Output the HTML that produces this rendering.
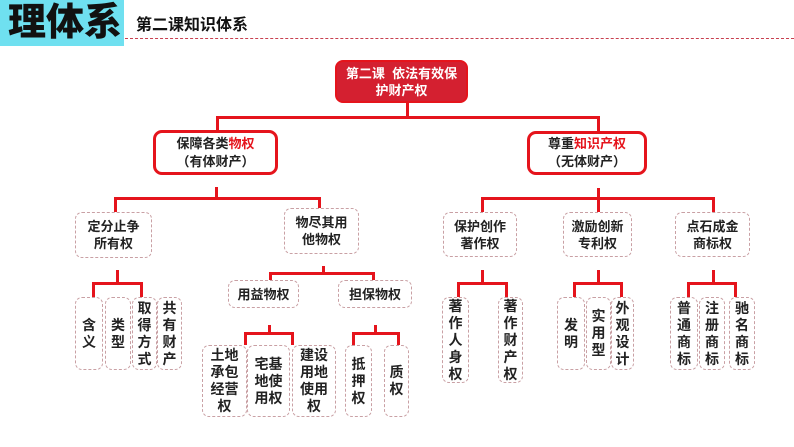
<!DOCTYPE html>
<html><head><meta charset="utf-8">
<style>
*{margin:0;padding:0;box-sizing:border-box}
body{width:794px;height:447px;background:#fff;position:relative;overflow:hidden;font-family:"Liberation Sans","Noto Sans CJK SC",sans-serif;font-weight:bold;color:#222}
.a{position:absolute}
.l{position:absolute;background:#e5141c}
.b{position:absolute;display:flex;align-items:center;justify-content:center;text-align:center;border:1px dashed #c9a0a4;border-radius:7px;font-size:13px;line-height:17px;background:#fff}
.v{font-size:14px;line-height:17px}
.r{color:#e5141c}
</style></head><body>
<div class="a" style="left:0;top:0;width:124px;height:46px;background:#6fe0f0"></div>
<div class="a" style="left:8px;top:1px;font-size:38px;line-height:44px;color:#111;font-weight:900">理体系</div>
<div class="a" style="left:136px;top:16px;font-size:16px;line-height:20px;color:#111">第二课知识体系</div>
<div class="a" style="left:125px;top:38px;width:669px;border-top:1px dashed #c84050"></div>

<div class="b" style="left:335px;top:60px;width:133px;height:43px;background:#d42030;border:2px solid #e5141c;border-radius:8px;color:#fff;font-size:13px;line-height:17px"><div>第二课&nbsp;&nbsp;依法有效保<br>护财产权</div></div>
<div class="l" style="left:406px;top:103px;width:3px;height:15px"></div>
<div class="l" style="left:216px;top:116px;width:384px;height:3px"></div>
<div class="l" style="left:216px;top:116px;width:3px;height:15px"></div>
<div class="l" style="left:597px;top:116px;width:3px;height:16px"></div>

<div class="b" style="left:153px;top:130px;width:125px;height:45px;border:3px solid #e5141c;border-radius:9px;font-size:13px;line-height:18px"><div>保障各类<span class="r">物权</span><br>（有体财产）</div></div>
<div class="b" style="left:527px;top:131px;width:120px;height:44px;border:3px solid #e5141c;border-radius:9px;font-size:13px;line-height:18px"><div>尊重<span class="r">知识产权</span><br>（无体财产）</div></div>

<div class="l" style="left:215px;top:187px;width:3px;height:11px"></div>
<div class="l" style="left:114px;top:197px;width:207px;height:3px"></div>
<div class="l" style="left:114px;top:197px;width:3px;height:15px"></div>
<div class="l" style="left:318px;top:197px;width:3px;height:12px"></div>
<div class="b" style="left:75px;top:212px;width:77px;height:46px"><div>定分止争<br>所有权</div></div>
<div class="b" style="left:284px;top:208px;width:75px;height:46px"><div>物尽其用<br>他物权</div></div>

<div class="l" style="left:116px;top:270px;width:3px;height:13px"></div>
<div class="l" style="left:92px;top:282px;width:51px;height:3px"></div>
<div class="l" style="left:92px;top:282px;width:3px;height:15px"></div>
<div class="l" style="left:140px;top:282px;width:3px;height:15px"></div>
<div class="b v" style="left:75px;top:297px;width:28px;height:73px"><div>含<br>义</div></div>
<div class="b v" style="left:105px;top:297px;width:26px;height:73px"><div>类<br>型</div></div>
<div class="b v" style="left:132px;top:297px;width:25px;height:73px"><div>取<br>得<br>方<br>式</div></div>
<div class="b v" style="left:157px;top:297px;width:25px;height:73px"><div>共<br>有<br>财<br>产</div></div>

<div class="l" style="left:322px;top:266px;width:3px;height:8px"></div>
<div class="l" style="left:269px;top:272px;width:106px;height:3px"></div>
<div class="l" style="left:269px;top:272px;width:3px;height:9px"></div>
<div class="l" style="left:372px;top:272px;width:3px;height:9px"></div>
<div class="b" style="left:228px;top:280px;width:71px;height:28px">用益物权</div>
<div class="b" style="left:338px;top:280px;width:74px;height:28px">担保物权</div>

<div class="l" style="left:268px;top:325px;width:3px;height:9px"></div>
<div class="l" style="left:244px;top:332px;width:50px;height:3px"></div>
<div class="l" style="left:244px;top:332px;width:3px;height:13px"></div>
<div class="l" style="left:291px;top:332px;width:3px;height:13px"></div>
<div class="b v" style="left:202px;top:345px;width:45px;height:72px"><div>土地<br>承包<br>经营<br>权</div></div>
<div class="b v" style="left:247px;top:345px;width:43px;height:72px"><div>宅基<br>地使<br>用权</div></div>
<div class="b v" style="left:292px;top:345px;width:44px;height:72px"><div>建设<br>用地<br>使用<br>权</div></div>

<div class="l" style="left:374px;top:325px;width:3px;height:9px"></div>
<div class="l" style="left:352px;top:332px;width:48px;height:3px"></div>
<div class="l" style="left:352px;top:332px;width:3px;height:13px"></div>
<div class="l" style="left:397px;top:332px;width:3px;height:13px"></div>
<div class="b v" style="left:345px;top:345px;width:27px;height:72px"><div>抵<br>押<br>权</div></div>
<div class="b v" style="left:384px;top:345px;width:25px;height:72px"><div>质<br>权</div></div>

<div class="l" style="left:597px;top:188px;width:3px;height:25px"></div>
<div class="l" style="left:481px;top:197px;width:234px;height:3px"></div>
<div class="l" style="left:481px;top:197px;width:3px;height:15px"></div>
<div class="l" style="left:712px;top:197px;width:3px;height:15px"></div>
<div class="b" style="left:443px;top:212px;width:74px;height:45px"><div>保护创作<br>著作权</div></div>
<div class="b" style="left:563px;top:212px;width:69px;height:45px"><div>激励创新<br>专利权</div></div>
<div class="b" style="left:675px;top:212px;width:75px;height:45px"><div>点石成金<br>商标权</div></div>

<div class="l" style="left:481px;top:270px;width:3px;height:13px"></div>
<div class="l" style="left:457px;top:282px;width:51px;height:3px"></div>
<div class="l" style="left:457px;top:282px;width:3px;height:15px"></div>
<div class="l" style="left:505px;top:282px;width:3px;height:15px"></div>
<div class="b v" style="left:442px;top:297px;width:27px;height:86px"><div>著<br>作<br>人<br>身<br>权</div></div>
<div class="b v" style="left:498px;top:297px;width:25px;height:86px"><div>著<br>作<br>财<br>产<br>权</div></div>

<div class="l" style="left:597px;top:270px;width:3px;height:13px"></div>
<div class="l" style="left:573px;top:282px;width:50px;height:3px"></div>
<div class="l" style="left:573px;top:282px;width:3px;height:15px"></div>
<div class="l" style="left:620px;top:282px;width:3px;height:15px"></div>
<div class="b v" style="left:557px;top:297px;width:28px;height:73px"><div>发<br>明</div></div>
<div class="b v" style="left:586px;top:297px;width:25px;height:73px"><div>实<br>用<br>型</div></div>
<div class="b v" style="left:611px;top:297px;width:23px;height:73px"><div>外<br>观<br>设<br>计</div></div>

<div class="l" style="left:712px;top:270px;width:3px;height:13px"></div>
<div class="l" style="left:687px;top:282px;width:50px;height:3px"></div>
<div class="l" style="left:687px;top:282px;width:3px;height:15px"></div>
<div class="l" style="left:734px;top:282px;width:3px;height:15px"></div>
<div class="b v" style="left:670px;top:297px;width:28px;height:73px"><div>普<br>通<br>商<br>标</div></div>
<div class="b v" style="left:699px;top:297px;width:26px;height:73px"><div>注<br>册<br>商<br>标</div></div>
<div class="b v" style="left:729px;top:297px;width:26px;height:73px"><div>驰<br>名<br>商<br>标</div></div>
</body></html>
